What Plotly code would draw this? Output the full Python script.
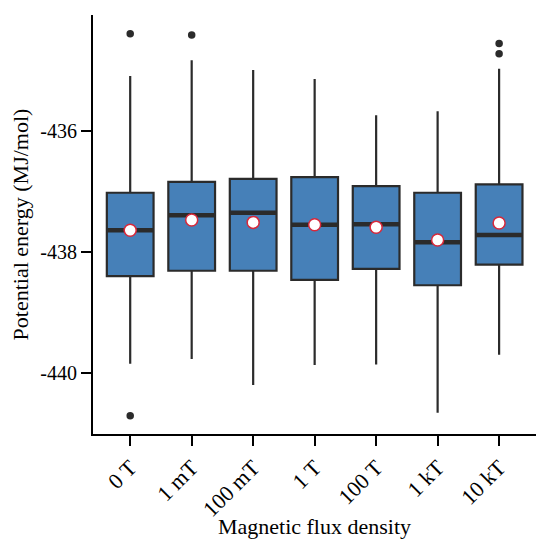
import plotly.graph_objects as go

categories = ["0 T", "1 mT", "100 mT", "1 T", "100 T", "1 kT", "10 kT"]
q1 = [-438.40, -438.31, -438.31, -438.46, -438.28, -438.55, -438.21]
median = [-437.64, -437.39, -437.35, -437.55, -437.54, -437.84, -437.72]
q3 = [-437.02, -436.84, -436.79, -436.76, -436.91, -437.02, -436.88]
lower_whisker = [-439.85, -439.77, -440.20, -439.87, -439.86, -440.66, -439.70]
upper_whisker = [-435.09, -434.83, -434.99, -435.14, -435.74, -435.67, -434.97]
means = [-437.64, -437.47, -437.51, -437.55, -437.59, -437.80, -437.52]
outlier_cat = [0, 0, 1, 6, 6]
outlier_val = [-434.39, -440.71, -434.41, -434.55, -434.72]

box_width = 0.76
edge = "#2b2b2b"
fill = "#4680b8"
font = "Liberation Serif"

xs = list(range(len(categories)))
fig = go.Figure()
fig.add_trace(go.Box(
    x=xs, q1=q1, median=median, q3=q3,
    lowerfence=lower_whisker, upperfence=upper_whisker,
    width=box_width, whiskerwidth=0,
    fillcolor=fill, line=dict(color=edge, width=2.2),
    boxpoints=False, showlegend=False, hoverinfo="skip",
))
for i, m in enumerate(median):
    fig.add_trace(go.Scatter(
        x=[i - box_width / 2, i + box_width / 2], y=[m, m], mode="lines",
        line=dict(color=edge, width=4.5), showlegend=False, hoverinfo="skip",
    ))
fig.add_trace(go.Scatter(
    x=outlier_cat, y=outlier_val, mode="markers",
    marker=dict(color=edge, size=7.5), showlegend=False,
))
fig.add_trace(go.Scatter(
    x=xs, y=means, mode="markers",
    marker=dict(color="white", size=12, line=dict(color="#d8283a", width=1.5)),
    showlegend=False,
))

fig.update_layout(
    width=536, height=539,
    margin=dict(l=93, r=0, t=15, b=105),
    paper_bgcolor="white", plot_bgcolor="white",
    font=dict(family=font, color="black", size=20),
    xaxis=dict(
        range=[-0.605, 6.6], tickmode="array", tickvals=xs, ticktext=categories,
        tickangle=-45, ticks="outside", ticklen=10, tickwidth=2, tickcolor="black",
        showline=True, linecolor="black", linewidth=2.2, showgrid=False, zeroline=False,
        tickfont=dict(size=22, family=font),
        title=dict(text="Magnetic flux density", font=dict(size=22, family=font), standoff=2),
    ),
    yaxis=dict(
        range=[-441.01, -434.08], tickvals=[-436, -438, -440], ticktext=["-436", "-438", "-440"],
        ticks="outside", ticklen=10, tickwidth=2, tickcolor="black",
        showline=True, linecolor="black", linewidth=2.2, showgrid=False, zeroline=False,
        tickfont=dict(size=20, family=font),
        title=dict(text="Potential energy (MJ/mol)", font=dict(size=22, family=font), standoff=6),
    ),
)
fig.write_html("out.html")
